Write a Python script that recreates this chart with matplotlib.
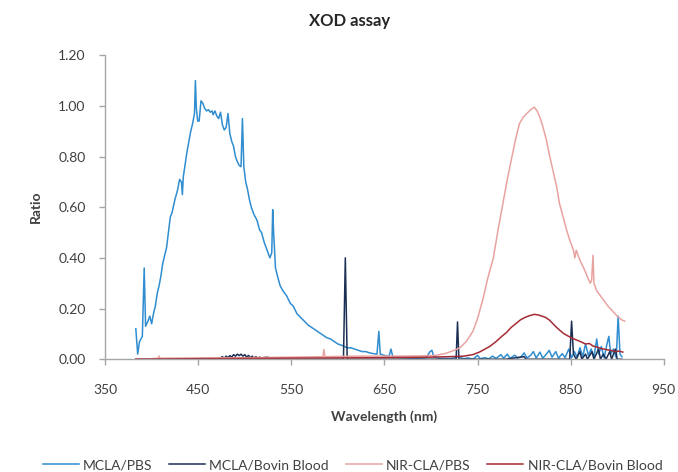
import matplotlib
matplotlib.use("Agg")
import matplotlib.pyplot as plt

# ---- data ----
mcla_pbs_x = [383, 385, 387, 390, 392, 393.5, 396, 398, 400, 402, 404, 406, 408, 410, 412, 414, 416, 418, 420, 422,
              425, 428, 430, 432, 433, 434, 436, 438, 440, 442, 444, 446, 447, 448, 449.5, 451, 453, 455, 457, 459,
              461, 463, 465, 466, 468, 470, 472, 474, 476, 478, 480, 482, 484, 486, 488, 490, 492, 494, 496, 497.5,
              499, 501, 503, 505, 507, 510, 513, 516, 518, 521, 524, 527, 529, 530, 531, 533, 535, 538, 541, 545,
              549, 552, 556, 560, 564, 568, 572, 576, 580, 584, 588, 592, 596, 600, 604, 607, 610, 614, 618, 622,
              626, 630, 634, 638, 642, 644, 645.5, 650, 655, 657, 659, 663, 668, 673, 680, 688, 695, 699, 701, 703,
              708, 715, 722, 730, 735, 740, 745, 750, 753, 758, 762, 766, 770, 775, 778, 782, 785, 790, 793, 797,
              800, 803, 807, 810, 813, 817, 820, 824, 827, 830, 834, 837, 841, 844, 848, 851, 854, 857, 860, 863,
              866, 869, 872, 875, 878, 880, 883, 886, 889, 891, 893, 896, 899, 901, 903, 905]
mcla_pbs_y = [0.12, 0.02, 0.07, 0.09, 0.36, 0.13, 0.15, 0.17, 0.14, 0.18, 0.21, 0.26, 0.29, 0.33, 0.38, 0.41, 0.44, 0.50, 0.56, 0.58,
              0.63, 0.67, 0.71, 0.70, 0.65, 0.72, 0.77, 0.82, 0.86, 0.90, 0.93, 0.97, 1.10, 0.99, 0.94, 0.94, 1.02, 1.01, 0.99, 0.98,
              0.985, 0.975, 0.98, 0.965, 0.98, 0.96, 0.95, 0.975, 0.925, 0.905, 0.915, 0.97, 0.89, 0.86, 0.84, 0.80, 0.78, 0.765, 0.76, 0.95,
              0.76, 0.70, 0.67, 0.63, 0.60, 0.57, 0.55, 0.51, 0.50, 0.46, 0.43, 0.40, 0.42, 0.59, 0.50, 0.36, 0.33, 0.29, 0.27, 0.25,
              0.22, 0.21, 0.18, 0.165, 0.15, 0.135, 0.125, 0.115, 0.105, 0.095, 0.085, 0.08, 0.07, 0.06, 0.055, 0.05, 0.045, 0.045, 0.04, 0.035,
              0.03, 0.03, 0.025, 0.022, 0.02, 0.11, 0.02, 0.015, 0.012, 0.04, 0.01, 0.008, 0.006, 0.005, 0.004, 0.004, 0.006, 0.03, 0.035, 0.01,
              0.004, 0.003, 0.003, 0.01, 0.002, 0.005, 0.0, 0.015, 0.002, 0.006, 0.001, 0.012, 0.003, 0.018, 0.004, 0.02, 0.003, 0.016, 0.004, 0.01,
              0.025, 0.005, 0.015, 0.03, 0.005, 0.028, 0.004, 0.02, 0.035, 0.008, 0.03, 0.004, 0.022, 0.006, 0.04, 0.005, 0.03, 0.008, 0.045, 0.01,
              0.06, 0.015, 0.04, 0.008, 0.08, 0.02, 0.05, 0.005, 0.06, 0.09, 0.02, 0.04, 0.005, 0.17, 0.02, 0.01]

mcla_blood_x = [383, 470, 474, 476, 478, 480, 482, 484, 486, 488, 490, 492, 494, 496, 498, 500, 502, 504, 506, 508,
                510, 512, 514, 516, 518, 520, 524, 528, 530, 606, 608, 610, 727, 728.5, 730, 780, 800, 802, 849, 851,
                853, 856, 860, 862, 866, 868, 873, 875, 880, 882, 885, 888, 892, 894, 898, 900, 905]
mcla_blood_y = [0.0, 0.0, 0.005, 0.01, 0.003, 0.012, 0.006, 0.014, 0.008, 0.018, 0.012, 0.02, 0.014, 0.02, 0.012, 0.018, 0.008, 0.015, 0.006, 0.012,
                0.004, 0.01, 0.003, 0.008, 0.002, 0.006, 0.008, 0.004, 0.0, 0.0, 0.40, 0.0, 0.0, 0.147, 0.0, 0.0, 0.01, 0.0, 0.0, 0.15,
                0.02, 0.0, 0.03, 0.0, 0.02, 0.0, 0.03, 0.0, 0.04, 0.0, 0.02, 0.0, 0.03, 0.0, 0.04, 0.0, 0.0]

nir_pbs_x = [383, 400, 407, 408, 409, 450, 500, 550, 584, 585, 586, 620, 660, 690, 705, 715, 725, 731, 738, 745,
             750, 756, 761, 767, 772, 777, 782, 787, 791, 795, 799, 803, 807, 811, 814, 817, 820, 824, 827, 831,
             835, 838, 842, 846, 850, 853, 854.5, 856, 860, 864, 868, 871, 872.5, 874, 875, 878, 882, 886, 890, 895,
             900, 905, 908]
nir_pbs_y = [0.0, 0.002, 0.004, 0.012, 0.004, 0.005, 0.006, 0.008, 0.01, 0.038, 0.01, 0.012, 0.012, 0.013, 0.015, 0.022, 0.035, 0.045, 0.07, 0.11,
             0.16, 0.24, 0.32, 0.40, 0.51, 0.61, 0.71, 0.80, 0.87, 0.93, 0.955, 0.97, 0.985, 0.995, 0.98, 0.955, 0.92, 0.865, 0.81, 0.745,
             0.68, 0.615, 0.56, 0.505, 0.46, 0.43, 0.40, 0.43, 0.39, 0.36, 0.325, 0.30, 0.31, 0.41, 0.30, 0.27, 0.25, 0.23, 0.21, 0.19,
             0.17, 0.155, 0.15]

nir_blood_x = [383, 450, 550, 650, 700, 720, 735, 745, 752, 758, 763, 770, 776, 781, 786, 791, 796, 801, 806, 811,
               815, 819, 823, 827, 831, 835, 839, 843, 848, 852, 857, 862, 866, 870, 874, 878, 883, 888, 893, 898,
               902, 906]
nir_blood_y = [0.0, 0.002, 0.004, 0.006, 0.008, 0.01, 0.012, 0.018, 0.028, 0.04, 0.05, 0.07, 0.09, 0.105, 0.125, 0.14, 0.155, 0.165, 0.172, 0.177,
               0.175, 0.17, 0.165, 0.155, 0.14, 0.125, 0.112, 0.1, 0.09, 0.082, 0.075, 0.067, 0.06, 0.062, 0.052, 0.048, 0.042, 0.038, 0.035, 0.03,
               0.032, 0.028]

series_labels = ["MCLA/PBS", "MCLA/Bovin Blood", "NIR-CLA/PBS", "NIR-CLA/Bovin Blood"]
x_ticks = [350, 450, 550, 650, 750, 850, 950]
y_ticks = [0.0, 0.2, 0.4, 0.6, 0.8, 1.0, 1.2]

# ---- styling ----
plt.rcParams['font.family'] = ['Lato', 'DejaVu Sans']
colors = ["#2F8DD0", "#1B2F55", "#E8A3A1", "#A52A33"]
text_color = "#404040"
axis_color = "#A6A6A6"

fig = plt.figure(figsize=(6.78, 4.72), dpi=100)
ax = fig.add_axes([0.155, 0.239, 0.824, 0.644])

data = [(mcla_pbs_x, mcla_pbs_y), (mcla_blood_x, mcla_blood_y),
        (nir_pbs_x, nir_pbs_y), (nir_blood_x, nir_blood_y)]
for (xs, ys), c, lab in zip(data, colors, series_labels):
    ax.plot(xs, ys, color=c, lw=1.1, label=lab)

ax.set_xlim(350, 950)
ax.set_ylim(0, 1.2)
ax.set_xticks(x_ticks)
ax.set_yticks(y_ticks)
ax.set_yticklabels([f"{v:.2f}" for v in y_ticks])
for s in ["top", "right"]:
    ax.spines[s].set_visible(False)
for s in ["left", "bottom"]:
    ax.spines[s].set_color(axis_color)
    ax.spines[s].set_linewidth(1.0)
ax.tick_params(axis='both', colors=axis_color, labelcolor=text_color, labelsize=10, length=4, width=1.0)
ax.tick_params(axis='x', pad=14)
ax.tick_params(axis='y', pad=10)

ax.set_xlabel("Wavelength (nm)", fontsize=10, fontweight='bold', color=text_color, labelpad=10)
ax.set_ylabel("Ratio", fontsize=10, fontweight='bold', color=text_color, labelpad=12)
fig.text(0.515, 0.955, "XOD assay", ha='center', va='center', fontsize=12, fontweight='bold', color="#262626")

fig.legend(loc='lower center', bbox_to_anchor=(0.52, -0.025), ncol=4, frameon=False,
           fontsize=10, handlelength=2.6, columnspacing=1.2, handletextpad=0.3, labelcolor=text_color)

fig.savefig("out.png", dpi=100)
